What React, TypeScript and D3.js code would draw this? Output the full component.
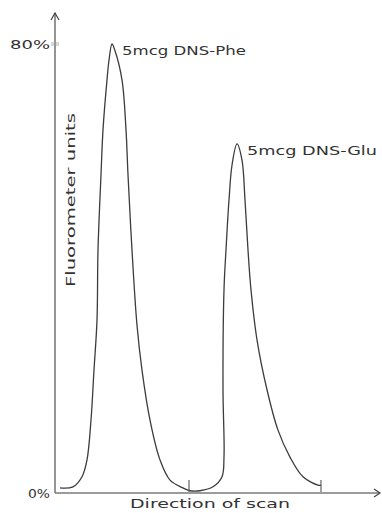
import React from "react";
import * as d3 from "d3";

// scan position (arbitrary units along the scan) and fluorometer reading (%)
const scanPos = [5, 18, 27, 32, 36, 39, 42, 43, 46, 48, 52, 54, 57, 60, 67, 71, 73, 77, 82, 87, 95, 105, 115, 128, 135, 145, 158, 167, 169, 168, 169, 171, 174, 177, 182, 187, 190, 193, 196, 202, 212, 223, 235, 248, 263, 266];
const fluor = [0.9, 1.1, 2.9, 5.9, 13.0, 21.9, 30.8, 43.3, 56.7, 64.7, 73.6, 77.1, 80, 78.8, 73.6, 64.7, 56.7, 43.3, 29.9, 21.9, 13.0, 5.9, 2.3, 0.9, 0.4, 0.4, 1.1, 2.9, 6.4, 18.4, 36.2, 43.3, 52.2, 58.4, 62.2, 59.3, 52.2, 43.3, 36.2, 27.3, 18.4, 11.2, 6.4, 2.9, 1.4, 1.4];

const peakLabels = ["5mcg DNS-Phe", "5mcg DNS-Glu"];
const peakPos = [57, 182];
const peakVal = [80, 62.2];

const markerPos = [134, 266];
const yTickVals = [0, 80];
const yTickLabels = ["0%", "80%"];

const W = 382;
const H = 513;
const FONT = "'DejaVu Sans', sans-serif";
const INK = "#333";
const AXIS = "#7a7a7a";

export default function App() {
  const x = d3.scaleLinear().domain([0, 325]).range([55, 380]);
  const y = d3.scaleLinear().domain([0, 80]).range([493, 44]);
  const pts: [number, number][] = scanPos.map((p, i) => [p, fluor[i]]);
  const line = d3
    .line<[number, number]>()
    .x((d) => x(d[0]))
    .y((d) => y(d[1]))
    .curve(d3.curveCatmullRom.alpha(0.5));
  const x0 = x(0);
  const y0 = y(0);
  const xEnd = x(325);
  const yTop = 13;
  return (
    <svg
      width={W}
      height={H}
      style={{ position: "absolute", left: 0, top: 0, display: "block", background: "#fff" }}
    >
      {/* y axis */}
      <line x1={x0} y1={y0} x2={x0} y2={yTop} stroke={AXIS} strokeWidth={1.6} />
      <path d={`M${x0 - 4},${yTop + 7} L${x0},${yTop} L${x0 + 4},${yTop + 7}`} fill="none" stroke="#444" strokeWidth={1.2} />
      {/* x axis */}
      <line x1={x0} y1={y0} x2={xEnd} y2={y0} stroke={AXIS} strokeWidth={1.6} />
      <path d={`M${xEnd - 6},${y0 - 4} L${xEnd},${y0} L${xEnd - 6},${y0 + 4}`} fill="none" stroke="#444" strokeWidth={1.2} />
      {/* y ticks */}
      {yTickVals.map((v, i) => (
        <g key={v}>
          {v !== 0 && (
            <>
              <line x1={x0 - 4} x2={x0 + 4} y1={y(v) - 1} y2={y(v) - 1} stroke="#999" strokeWidth={0.8} />
              <line x1={x0 - 4} x2={x0 + 4} y1={y(v) + 1} y2={y(v) + 1} stroke="#999" strokeWidth={0.8} />
            </>
          )}
          <text
            x={x0 - 5}
            y={y(v) + 5}
            textAnchor="end"
            fontFamily={FONT}
            fontSize={13}
            fill={INK}
            textLength={i === 0 ? 22 : 40}
            lengthAdjust="spacingAndGlyphs"
          >
            {yTickLabels[i]}
          </text>
        </g>
      ))}
      {/* curve */}
      <path d={line(pts) || ""} fill="none" stroke="#3c3c3c" strokeWidth={1.3} />
      {/* scan markers */}
      {markerPos.map((m) => (
        <line key={m} x1={x(m)} x2={x(m)} y1={y0 - 1} y2={y0 - 13} stroke="#555" strokeWidth={1.1} />
      ))}
      {/* peak labels */}
      {peakLabels.map((t, i) => (
        <text
          key={t}
          x={x(peakPos[i]) + 10}
          y={y(peakVal[i]) + 11}
          fontFamily={FONT}
          fontSize={13}
          fill={INK}
          textLength={i === 0 ? 124 : 130}
          lengthAdjust="spacingAndGlyphs"
        >
          {t}
        </text>
      ))}
      {/* axis titles */}
      <text
        x={210}
        y={508}
        textAnchor="middle"
        fontFamily={FONT}
        fontSize={12}
        fill={INK}
        textLength={160}
        lengthAdjust="spacingAndGlyphs"
      >
        Direction of scan
      </text>
      <text
        transform="translate(75,200) rotate(-90)"
        textAnchor="middle"
        fontFamily={FONT}
        fontSize={12}
        fill={INK}
        textLength={174}
        lengthAdjust="spacingAndGlyphs"
      >
        Fluorometer units
      </text>
    </svg>
  );
}
